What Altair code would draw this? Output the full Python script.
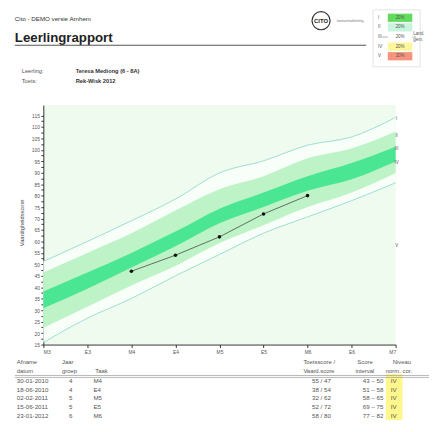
import json
import altair as alt
import pandas as pd

# ---------------- data ----------------
x_labels = ['M3', 'E3', 'M4', 'E4', 'M5', 'E5', 'M6', 'E6', 'M7']
band_top_line = [51.2, 60.0, 69.0, 78.5, 89.9, 95.2, 102.0, 105.6, 114.1]
band_light_top = [46.5, 55.0, 63.6, 73.5, 82.8, 88.5, 96.3, 100.6, 108.0]
band_dark_top = [38.2, 46.5, 55.0, 64.3, 74.3, 81.4, 88.5, 94.2, 101.3]
band_dark_bot = [30.8, 39.4, 48.6, 57.9, 67.9, 75.0, 82.1, 87.1, 94.9]
band_light_bot = [22.3, 31.5, 40.8, 49.3, 59.3, 67.1, 75.0, 81.4, 89.9]
band_bottom_line = [15.9, 26.5, 35.1, 45.0, 54.3, 63.6, 70.7, 77.8, 85.6]

student_moments = ['M4', 'E4', 'M5', 'E5', 'M6']
student_scores = [47, 54, 62, 72, 80]

level_names = ['I', 'II', 'III', 'IV', 'V']
level_label_values = [113.6, 105.9, 100.2, 94.2, 58.2]

table_dates = ['30-01-2010', '18-06-2010', '02-02-2011', '15-06-2011', '23-01-2012']
table_groups = ['4', '4', '5', '5', '6']
table_tasks = ['M4', 'E4', 'M5', 'E5', 'M6']
table_scores = ['55 / 47', '38 / 54', '32 / 62', '52 / 72', '58 / 80']
table_intervals = ['43 – 50', '51 – 58', '58 – 65', '69 – 75', '77 – 82']
table_levels = ['IV', 'IV', 'IV', 'IV', 'IV']

legend_levels = ['I', 'II', 'III', 'IV', 'V']
legend_shares = ['20%', '20%', '20%', '20%', '20%']
legend_colors = ['#62db5c', '#c8f3dc', '#ffffff', '#fff59a', '#f5937e']

FONT = 'Liberation Sans'

bands = pd.DataFrame({
    'm': list(range(len(x_labels))),
    'top': band_top_line, 'ltop': band_light_top, 'dtop': band_dark_top,
    'dbot': band_dark_bot, 'lbot': band_light_bot, 'bot': band_bottom_line,
})
student = pd.DataFrame({'m': [x_labels.index(s) for s in student_moments],
                        'score': student_scores})
levels = pd.DataFrame({'m': [len(x_labels) - 1] * 5, 'v': level_label_values,
                       't': level_names})
table = pd.DataFrame({'r': list(range(5)), 'date': table_dates, 'grp': table_groups,
                      'task': table_tasks, 'score': table_scores,
                      'intv': table_intervals, 'lvl': table_levels})

# ---------------- layout helpers (page coords -> plot coords) ----------------
OX, OY = 44, 103


def px(x):
    return x - OX


def py(y):
    return y - OY


one = pd.DataFrame({'a': [0]})


def txt(s, x, y, size=6, weight='normal', color='#555', align='left', angle=0):
    return alt.Chart(pd.DataFrame({'t': [s]})).mark_text(
        align=align, baseline='middle', fontSize=size, fontWeight=weight,
        color=color, font=FONT, angle=angle
    ).encode(x=alt.value(px(x)), y=alt.value(py(y)), text='t:N')


def hrule(x1, x2, y, color='#888', width=1.0):
    return alt.Chart(one).mark_rule(color=color, strokeWidth=width).encode(
        x=alt.value(px(x1)), x2=alt.value(px(x2)), y=alt.value(py(y)))


def box(x1, y1, x2, y2, fill, stroke=None, sw=0.6):
    kw = dict(fill=fill)
    if stroke:
        kw.update(stroke=stroke, strokeWidth=sw)
    return alt.Chart(one).mark_rect(**kw).encode(
        x=alt.value(px(x1)), x2=alt.value(px(x2)),
        y=alt.value(py(y1)), y2=alt.value(py(y2)))


# ---------------- main plot ----------------
xscale = alt.Scale(domain=[0, len(x_labels) - 1], nice=False, zero=False)
yscale = alt.Scale(domain=[15, 119.5], nice=False, zero=False)
x_axis = alt.Axis(values=list(range(len(x_labels))),
                  labelExpr=json.dumps(x_labels) + '[datum.value]',
                  title=None, grid=False, tickSize=3, labelFontSize=5,
                  labelColor='#555', domainColor='#333', tickColor='#333',
                  labelPadding=2, labelFont=FONT)
y_axis = alt.Axis(values=[15 + 2.5 * i for i in range(41)],
                  labelExpr="datum.value % 5 === 0 ? datum.label : ''", format='d',
                  title=None, grid=False, tickSize=2.5, labelFontSize=5,
                  labelColor='#555', domainColor='#333', tickColor='#333',
                  labelPadding=1.5, labelFont=FONT)

X = alt.X('m:Q', scale=xscale, axis=x_axis)


def area(lo, hi, color):
    return alt.Chart(bands).mark_area(color=color, interpolate='monotone').encode(
        x=X, y=alt.Y(lo + ':Q', scale=yscale, axis=y_axis), y2=hi + ':Q')


def bline(field):
    return alt.Chart(bands).mark_line(color='#86d6cc', strokeWidth=0.8,
                                      interpolate='monotone').encode(
        x=X, y=alt.Y(field + ':Q', scale=yscale, axis=y_axis))


main = [
    area('bot', 'top', '#f8fef8'),
    area('lbot', 'ltop', '#bdf3c6'),
    area('dbot', 'dtop', '#4be694'),
    bline('top'), bline('bot'),
    alt.Chart(student).mark_line(color='#333', strokeWidth=0.7).encode(
        x=X, y=alt.Y('score:Q', scale=yscale, axis=y_axis)),
    alt.Chart(student).mark_point(filled=True, color='#111', size=13, opacity=1).encode(
        x=X, y=alt.Y('score:Q', scale=yscale, axis=y_axis)),
    alt.Chart(levels).mark_text(fontSize=4.5, color='#555', font=FONT, dx=1).encode(
        x=X, y=alt.Y('v:Q', scale=yscale, axis=y_axis), text='t:N'),
]

# ---------------- header ----------------
header = [
    txt('Cito - DEMO versie Arnhem', 15, 15.5, size=6.3, color='#333'),
    txt('Leerlingrapport', 15, 34.5, size=13.5, weight='bold', color='#222'),
    hrule(15, 373, 42, color='#555', width=1.2),
    txt('Leerling:', 22, 68, size=5.8),
    txt('Teresa Mediong  (6 - 8A)', 77, 68, size=5.8, weight='bold', color='#333'),
    txt('Toets:', 22, 78, size=5.8),
    txt('Rek-Wisk 2012', 77, 78, size=5.8, weight='bold', color='#333'),
    alt.Chart(one).mark_point(shape='circle', size=340, filled=False, color='#333',
                              strokeWidth=1.2, opacity=1).encode(
        x=alt.value(px(327)), y=alt.value(py(17))),
    txt('CITO', 327, 17, size=6, weight='bold', color='#222', align='center'),
    txt('toetsontwikkeling', 343, 17, size=3.6, color='#777'),
    txt('Vaardigheidsscore', 22, 223, size=5.8, color='#444', align='center', angle=270),
]

# legend box
legend = [box(380, 6, 428, 64, '#ffffff', stroke='#d0d0d0')]
for i, (lv, sh, col) in enumerate(zip(legend_levels, legend_shares, legend_colors)):
    yc = 14 + i * 9.8
    legend.append(box(395, yc - 4.2, 420, yc + 4.2, col))
    legend.append(txt(lv, 385, yc, size=4.5))
    legend.append(txt(sh, 407.5, yc, size=4.5, align='center'))
legend += [
    hrule(389, 395, 33.6, color='#777', width=0.6),
    hrule(420, 424, 33.6, color='#777', width=0.6),
    txt('Land.', 421, 31, size=4.5),
    txt('gem.', 421, 37, size=4.5),
]

# ---------------- table ----------------
ROW0, STEP = py(384), 9


def tcol(field, x, align='left'):
    return alt.Chart(table).transform_calculate(
        py=f'{ROW0} + datum.r * {STEP}'
    ).mark_text(align=align, baseline='middle', fontSize=6.3, color='#555',
                font=FONT).encode(
        x=alt.value(px(x)), y=alt.Y('py:Q', scale=None, axis=None),
        text=f'{field}:N')


tab = [
    box(393, 377, 410, 424, '#fff68c'),
    txt('Afname', 17, 365), txt('datum', 17, 374),
    txt('Jaar', 63, 365), txt('groep', 63, 374),
    txt('Taak', 97, 374),
    txt('Toetsscore /', 309, 365), txt('Vaard.score', 309, 374),
    txt('Score', 364, 365), txt('interval', 362, 374),
    txt('Niveau', 400, 365), txt('norm.', 393, 374), txt('cor.', 410, 374),
    hrule(15, 437, 378.5, color='#999', width=0.7),
    hrule(15, 437, 380.5, color='#999', width=0.7),
    tcol('date', 17), tcol('grp', 72, 'center'), tcol('task', 95),
    tcol('score', 337, 'right'), tcol('intv', 380, 'center'), tcol('lvl', 398),
]

chart = alt.layer(*main, *header, *legend, *tab).properties(
    width=359, height=244,
    padding={'left': 36, 'top': 95, 'right': 34, 'bottom': 77},
    autosize=alt.AutoSizeParams(type='none'),
).configure(font=FONT).configure_view(fill='#eefbee', stroke=None)

chart.save('out.html', embed_options={'renderer': 'svg', 'actions': False})
